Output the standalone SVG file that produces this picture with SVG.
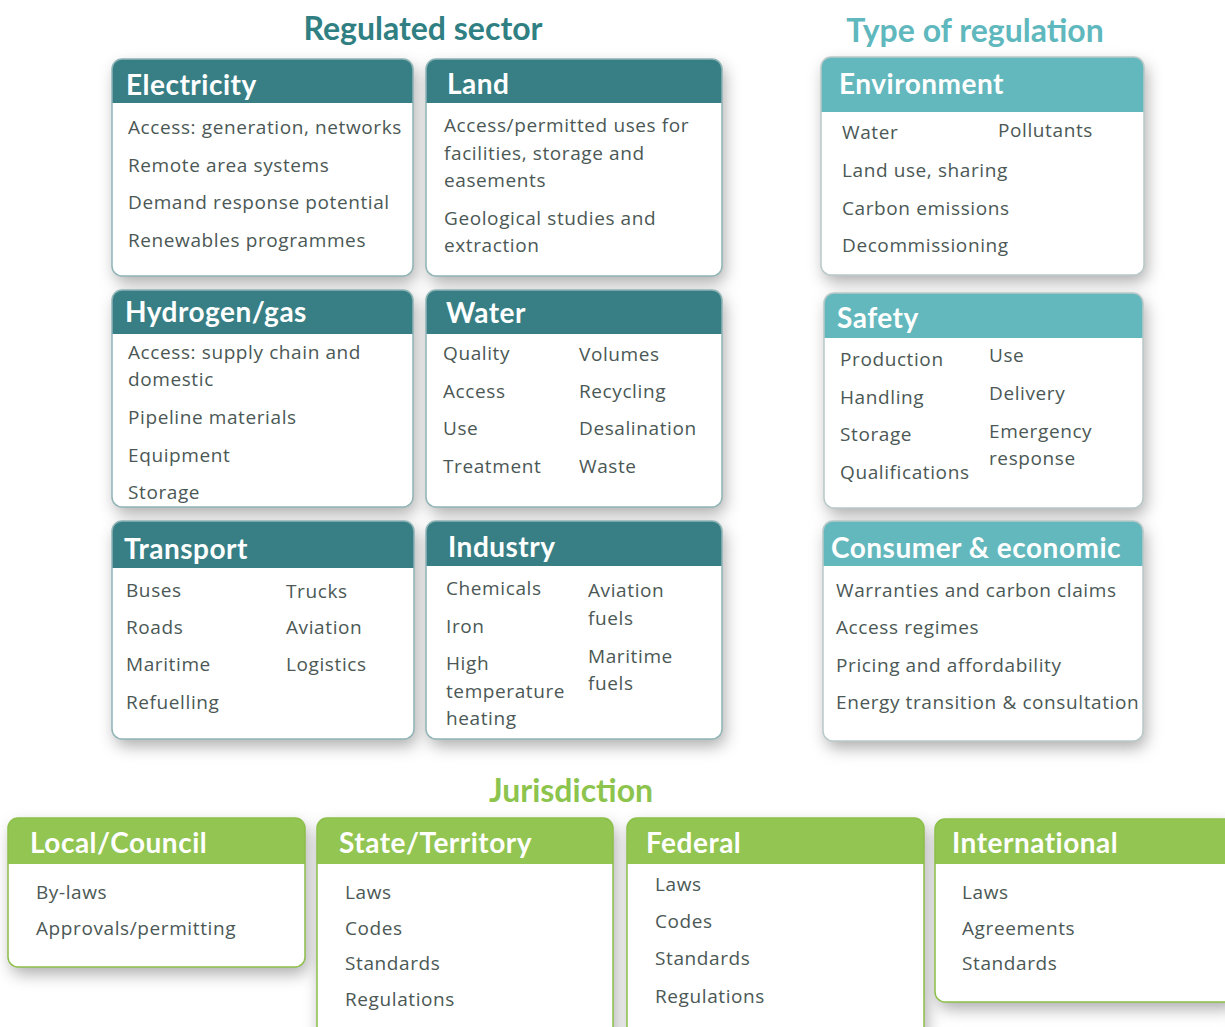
<svg xmlns="http://www.w3.org/2000/svg" width="1225" height="1027" viewBox="0 0 1225 1027">
<defs>
<filter id="sh" x="-20%" y="-20%" width="140%" height="150%">
<feDropShadow dx="3" dy="7" stdDeviation="8" flood-color="#000" flood-opacity="0.32"/>
</filter>
<style>
.title{font-family:Lato,"Liberation Sans",sans-serif;font-weight:bold;font-size:32px;text-anchor:middle}
.hd{font-family:Lato,"Open Sans",sans-serif;font-weight:bold;font-size:28px;fill:#fff;letter-spacing:0.5px}
.tx{font-family:"Open Sans","Liberation Sans",sans-serif;font-size:19px;fill:#4b5855;letter-spacing:0.6px}
.box{fill:#fff;filter:url(#sh)}
.ol{fill:none;stroke-width:1.5}
.dk{fill:#377f85}
.lt{fill:#63b8bd}
.gr{fill:#92c551}
.olT{stroke:#8fb4b6}
.olG{stroke:#8cc04a}
</style>
</defs>
<rect width="1225" height="1027" fill="#fff"/>

<text class="title" x="423" y="40" fill="#2f7f83">Regulated sector</text>
<text class="title" x="975" y="42" fill="#5fb8bd">Type of regulation</text>
<text class="title" x="571" y="802" fill="#8dc44d">Jurisdiction</text>

<g id="electricity">
<rect class="box" x="112" y="59" width="301" height="217" rx="10"/>
<rect class="dk" x="112" y="59" width="301" height="44" rx="10"/><rect class="dk" x="112" y="70" width="301" height="33"/>
<rect class="ol olT" x="112" y="59" width="301" height="217" rx="10"/>
<text class="hd" x="126" y="95">Electricity</text>
<text class="tx" x="128" y="134">Access: generation, networks</text>
<text class="tx" x="128" y="172">Remote area systems</text>
<text class="tx" x="128" y="209">Demand response potential</text>
<text class="tx" x="128" y="247">Renewables programmes</text>
</g>

<g id="land">
<rect class="box" x="426" y="59" width="296" height="217" rx="10"/>
<rect class="dk" x="426" y="59" width="296" height="44" rx="10"/><rect class="dk" x="426" y="70" width="296" height="33"/>
<rect class="ol olT" x="426" y="59" width="296" height="217" rx="10"/>
<text class="hd" x="447" y="94">Land</text>
<text class="tx" x="444" y="132">Access/permitted  uses for</text>
<text class="tx" x="444" y="160">facilities, storage and</text>
<text class="tx" x="444" y="187">easements</text>
<text class="tx" x="444" y="225">Geological studies and</text>
<text class="tx" x="444" y="252">extraction</text>
</g>

<g id="hydrogen">
<rect class="box" x="112" y="290" width="301" height="217" rx="10"/>
<rect class="dk" x="112" y="290" width="301" height="44" rx="10"/><rect class="dk" x="112" y="301" width="301" height="33"/>
<rect class="ol olT" x="112" y="290" width="301" height="217" rx="10"/>
<text class="hd" x="125" y="322">Hydrogen/gas</text>
<text class="tx" x="128" y="359">Access: supply chain and</text>
<text class="tx" x="128" y="386">domestic</text>
<text class="tx" x="128" y="424">Pipeline materials</text>
<text class="tx" x="128" y="462">Equipment</text>
<text class="tx" x="128" y="499">Storage</text>
</g>

<g id="water">
<rect class="box" x="426" y="290" width="296" height="217" rx="10"/>
<rect class="dk" x="426" y="290" width="296" height="44" rx="10"/><rect class="dk" x="426" y="301" width="296" height="33"/>
<rect class="ol olT" x="426" y="290" width="296" height="217" rx="10"/>
<text class="hd" x="446" y="323">Water</text>
<text class="tx" x="443" y="360">Quality</text>
<text class="tx" x="443" y="398">Access</text>
<text class="tx" x="443" y="435">Use</text>
<text class="tx" x="443" y="473">Treatment</text>
<text class="tx" x="579" y="361">Volumes</text>
<text class="tx" x="579" y="398">Recycling</text>
<text class="tx" x="579" y="435">Desalination</text>
<text class="tx" x="579" y="473">Waste</text>
</g>

<g id="transport">
<rect class="box" x="112" y="521" width="302" height="218" rx="10"/>
<rect class="dk" x="112" y="521" width="302" height="47" rx="10"/><rect class="dk" x="112" y="532" width="302" height="36"/>
<rect class="ol olT" x="112" y="521" width="302" height="218" rx="10"/>
<text class="hd" x="124" y="559">Transport</text>
<text class="tx" x="126" y="597">Buses</text>
<text class="tx" x="126" y="634">Roads</text>
<text class="tx" x="126" y="671">Maritime</text>
<text class="tx" x="126" y="709">Refuelling</text>
<text class="tx" x="286" y="598">Trucks</text>
<text class="tx" x="286" y="634">Aviation</text>
<text class="tx" x="286" y="671">Logistics</text>
</g>

<g id="industry">
<rect class="box" x="426" y="521" width="296" height="218" rx="10"/>
<rect class="dk" x="426" y="521" width="296" height="45" rx="10"/><rect class="dk" x="426" y="532" width="296" height="34"/>
<rect class="ol olT" x="426" y="521" width="296" height="218" rx="10"/>
<text class="hd" x="448" y="557">Industry</text>
<text class="tx" x="446" y="595">Chemicals</text>
<text class="tx" x="446" y="633">Iron</text>
<text class="tx" x="446" y="670">High</text>
<text class="tx" x="446" y="698">temperature</text>
<text class="tx" x="446" y="725">heating</text>
<text class="tx" x="588" y="597">Aviation</text>
<text class="tx" x="588" y="625">fuels</text>
<text class="tx" x="588" y="663">Maritime</text>
<text class="tx" x="588" y="690">fuels</text>
</g>

<g id="environment">
<rect class="box" x="821" y="57" width="323" height="218" rx="10"/>
<rect class="lt" x="821" y="57" width="323" height="55" rx="10"/><rect class="lt" x="821" y="68" width="323" height="44"/>
<rect class="ol" stroke="#b9c9c9" x="821" y="57" width="323" height="218" rx="10"/>
<text class="hd" x="839" y="94">Environment</text>
<text class="tx" x="842" y="139">Water</text>
<text class="tx" x="998" y="137">Pollutants</text>
<text class="tx" x="842" y="177">Land use, sharing</text>
<text class="tx" x="842" y="215">Carbon emissions</text>
<text class="tx" x="842" y="252">Decommissioning</text>
</g>

<g id="safety">
<rect class="box" x="824" y="293" width="319" height="215" rx="10"/>
<rect class="lt" x="824" y="293" width="319" height="45" rx="10"/><rect class="lt" x="824" y="304" width="319" height="34"/>
<rect class="ol" stroke="#b9c9c9" x="824" y="293" width="319" height="215" rx="10"/>
<text class="hd" x="837" y="328">Safety</text>
<text class="tx" x="840" y="366">Production</text>
<text class="tx" x="840" y="404">Handling</text>
<text class="tx" x="840" y="441">Storage</text>
<text class="tx" x="840" y="479">Qualifications</text>
<text class="tx" x="989" y="362">Use</text>
<text class="tx" x="989" y="400">Delivery</text>
<text class="tx" x="989" y="438">Emergency</text>
<text class="tx" x="989" y="465">response</text>
</g>

<g id="consumer">
<rect class="box" x="823" y="521" width="320" height="220" rx="10"/>
<rect class="lt" x="823" y="521" width="320" height="45" rx="10"/><rect class="lt" x="823" y="532" width="320" height="34"/>
<rect class="ol" stroke="#b9c9c9" x="823" y="521" width="320" height="220" rx="10"/>
<text class="hd" x="831" y="558">Consumer &amp; economic</text>
<text class="tx" x="836" y="597">Warranties and carbon claims</text>
<text class="tx" x="836" y="634">Access regimes</text>
<text class="tx" x="836" y="672">Pricing and affordability</text>
<text class="tx" x="836" y="709">Energy transition  &amp; consultation</text>
</g>

<g id="local">
<rect class="box" x="8" y="818" width="297" height="149" rx="10"/>
<rect class="gr" x="8" y="818" width="297" height="46" rx="10"/><rect class="gr" x="8" y="829" width="297" height="35"/>
<rect class="ol olG" x="8" y="818" width="297" height="149" rx="10"/>
<text class="hd" x="30" y="853">Local/Council</text>
<text class="tx" x="36" y="899">By-laws</text>
<text class="tx" x="36" y="935">Approvals/permitting</text>
</g>

<g id="state">
<rect class="box" x="317" y="818" width="296" height="230" rx="10"/>
<rect class="gr" x="317" y="818" width="296" height="46" rx="10"/><rect class="gr" x="317" y="829" width="296" height="35"/>
<rect class="ol olG" x="317" y="818" width="296" height="230" rx="10"/>
<text class="hd" x="339" y="853">State/Territory</text>
<text class="tx" x="345" y="899">Laws</text>
<text class="tx" x="345" y="935">Codes</text>
<text class="tx" x="345" y="970">Standards</text>
<text class="tx" x="345" y="1006">Regulations</text>
</g>

<g id="federal">
<rect class="box" x="627" y="818" width="297" height="230" rx="10"/>
<rect class="gr" x="627" y="818" width="297" height="46" rx="10"/><rect class="gr" x="627" y="829" width="297" height="35"/>
<rect class="ol olG" x="627" y="818" width="297" height="230" rx="10"/>
<text class="hd" x="646" y="853">Federal</text>
<text class="tx" x="655" y="891">Laws</text>
<text class="tx" x="655" y="928">Codes</text>
<text class="tx" x="655" y="965">Standards</text>
<text class="tx" x="655" y="1003">Regulations</text>
</g>

<g id="international">
<rect class="box" x="935" y="819" width="300" height="183" rx="10"/>
<rect class="gr" x="935" y="819" width="300" height="45" rx="10"/><rect class="gr" x="935" y="830" width="300" height="34"/>
<rect class="ol olG" x="935" y="819" width="300" height="183" rx="10"/>
<text class="hd" x="952" y="853">International</text>
<text class="tx" x="962" y="899">Laws</text>
<text class="tx" x="962" y="935">Agreements</text>
<text class="tx" x="962" y="970">Standards</text>
</g>
</svg>
